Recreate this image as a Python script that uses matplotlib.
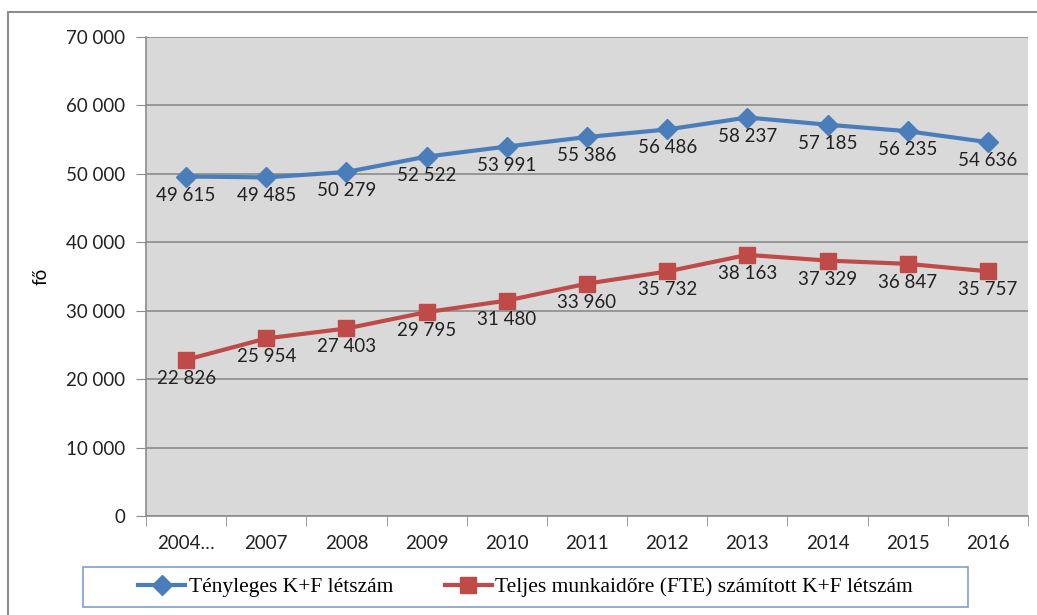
import matplotlib.pyplot as plt
from matplotlib.patches import Rectangle
from matplotlib.ticker import FuncFormatter, FixedLocator, NullFormatter

# data
years = ['2004…', '2007', '2008', '2009', '2010', '2011', '2012', '2013', '2014', '2015', '2016']
headcount = [49615, 49485, 50279, 52522, 53991, 55386, 56486, 58237, 57185, 56235, 54636]
fte = [22826, 25954, 27403, 29795, 31480, 33960, 35732, 38163, 37329, 36847, 35757]

label_head = 'Tényleges K+F létszám'
label_fte = 'Teljes munkaidőre (FTE) számított K+F létszám'

blue = '#4a7ebb'
red = '#be4b48'
num_font = 'Lato'
serif_font = 'Liberation Serif'
W, H = 1037, 615


def fmt(v, pos=None):
    return f'{int(v):,}'.replace(',', ' ')


fig = plt.figure(figsize=(W / 100, H / 100), dpi=100)
ax = fig.add_axes([0.1408, 0.161, 0.8505, 0.7788])
ax.set_facecolor('#d9d9d9')

x = list(range(len(years)))
ax.plot(x, headcount, color=blue, lw=3, marker='D', ms=10, zorder=3, label=label_head)
ax.plot(x, fte, color=red, lw=3, marker='s', ms=11, zorder=3, label=label_fte)

# data labels below each point
for xi, v in zip(x, headcount):
    ax.annotate(fmt(v), (xi, v), xytext=(0, -10), textcoords='offset pixels',
                ha='center', va='top', fontsize=13.5, family=num_font, color='#222222')
for xi, v in zip(x, fte):
    ax.annotate(fmt(v), (xi, v), xytext=(0, -10), textcoords='offset pixels',
                ha='center', va='top', fontsize=13.5, family=num_font, color='#222222')

ax.set_xlim(-0.5, len(years) - 0.5)
ax.set_ylim(0, 70000)
ax.set_yticks(range(0, 70001, 10000))
ax.yaxis.set_major_formatter(FuncFormatter(fmt))
ax.grid(axis='y', color='#8c8c8c', lw=1.2)
ax.set_axisbelow(True)

# category labels centred, tick marks between categories
ax.set_xticks(x)
ax.set_xticklabels(years)
ax.xaxis.set_minor_locator(FixedLocator([i - 0.5 for i in range(len(years) + 1)]))
ax.xaxis.set_minor_formatter(NullFormatter())
ax.tick_params(axis='x', which='major', length=0, pad=14)
ax.tick_params(axis='x', which='minor', length=7, color='#8c8c8c', direction='out')
ax.tick_params(axis='y', length=7, color='#8c8c8c', direction='out', pad=8)
for lab in ax.get_xticklabels() + ax.get_yticklabels():
    lab.set_fontfamily(num_font)
    lab.set_fontsize(13.5)
    lab.set_color('#222222')

for side in ['top', 'right']:
    ax.spines[side].set_visible(False)
for side in ['left', 'bottom']:
    ax.spines[side].set_color('#8c8c8c')
    ax.spines[side].set_linewidth(1.2)

ax.set_ylabel('fő', fontsize=13.5, family=num_font, labelpad=12)

# legend entries without frame; frame drawn separately to match the wide box
leg = fig.legend(loc='center left', bbox_to_anchor=(138 / W, 1 - 587 / H), ncol=2,
                 prop={'family': serif_font, 'size': 15.5}, frameon=False,
                 handlelength=2.2, handletextpad=0.15, columnspacing=2.4,
                 borderpad=0, borderaxespad=0)
fig.patches.append(Rectangle((83 / W, 1 - 607 / H), (968 - 83) / W, 40 / H,
                             transform=fig.transFigure, fill=False,
                             edgecolor='#7aa0d4', lw=1.2))

# outer chart border
fig.patches.append(Rectangle((8 / W, -0.01), 1.1, 1 - 12 / H + 0.01,
                             transform=fig.transFigure, fill=False,
                             edgecolor='#8c8c8c', lw=1.5))

fig.savefig('out.png', dpi=100)
